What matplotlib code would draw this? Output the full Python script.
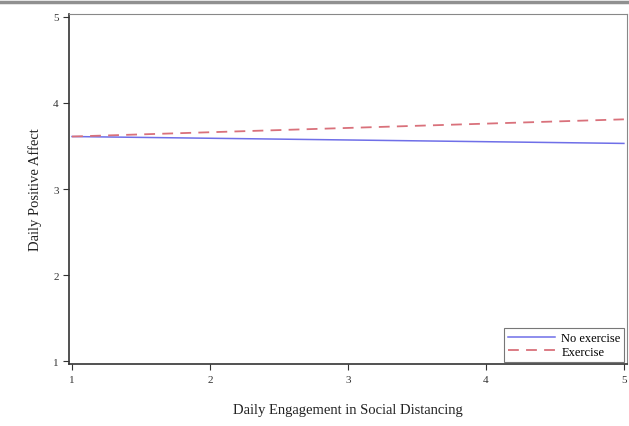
import matplotlib.pyplot as plt
import numpy as np

plt.rcParams['font.family'] = ['Liberation Serif', 'DejaVu Serif']

x = [1, 5]
no_exercise = [3.61, 3.53]
exercise = [3.61, 3.81]
xticks = [1, 2, 3, 4, 5]
yticks = [1, 2, 3, 4, 5]

fig = plt.figure(figsize=(6.29, 4.27), dpi=100)
# gray band at the very top
fig.add_artist(plt.Line2D([0, 1], [0.993, 0.993], color='#909090', lw=2.5))
ax = fig.add_axes([0.1097, 0.145, 0.887, 0.82])

ax.plot(x, no_exercise, color='#6f6fe8', lw=1.1, label='No exercise')
ax.plot(x, exercise, color='#d9717b', lw=1.3, ls=(0, (6, 4)), label='Exercise')

ax.set_xlim(0.978, 5.022)
ax.set_ylim(0.965, 5.035)
ax.set_xticks(xticks)
ax.set_yticks(yticks)
ax.tick_params(direction='out', length=4, width=0.8, labelsize=8, colors='#333333')
for s in ['left', 'bottom']:
    ax.spines[s].set_color('#333333')
    ax.spines[s].set_linewidth(1.2)
for s in ['top', 'right']:
    ax.spines[s].set_color('#888888')
    ax.spines[s].set_linewidth(0.8)

ax.set_xlabel('Daily Engagement in Social Distancing', fontsize=10.5, labelpad=14, color='#222222')
ax.set_ylabel('Daily Positive Affect', fontsize=10.5, labelpad=8, color='#222222')

leg = ax.legend(loc='lower right', fontsize=9, frameon=True, fancybox=False,
                handlelength=3.8, handletextpad=0.5, borderpad=0.3,
                labelspacing=0.15, borderaxespad=0.2)
leg.get_frame().set_edgecolor('#555555')
leg.get_frame().set_linewidth(0.8)

fig.savefig('out.png', dpi=100)
